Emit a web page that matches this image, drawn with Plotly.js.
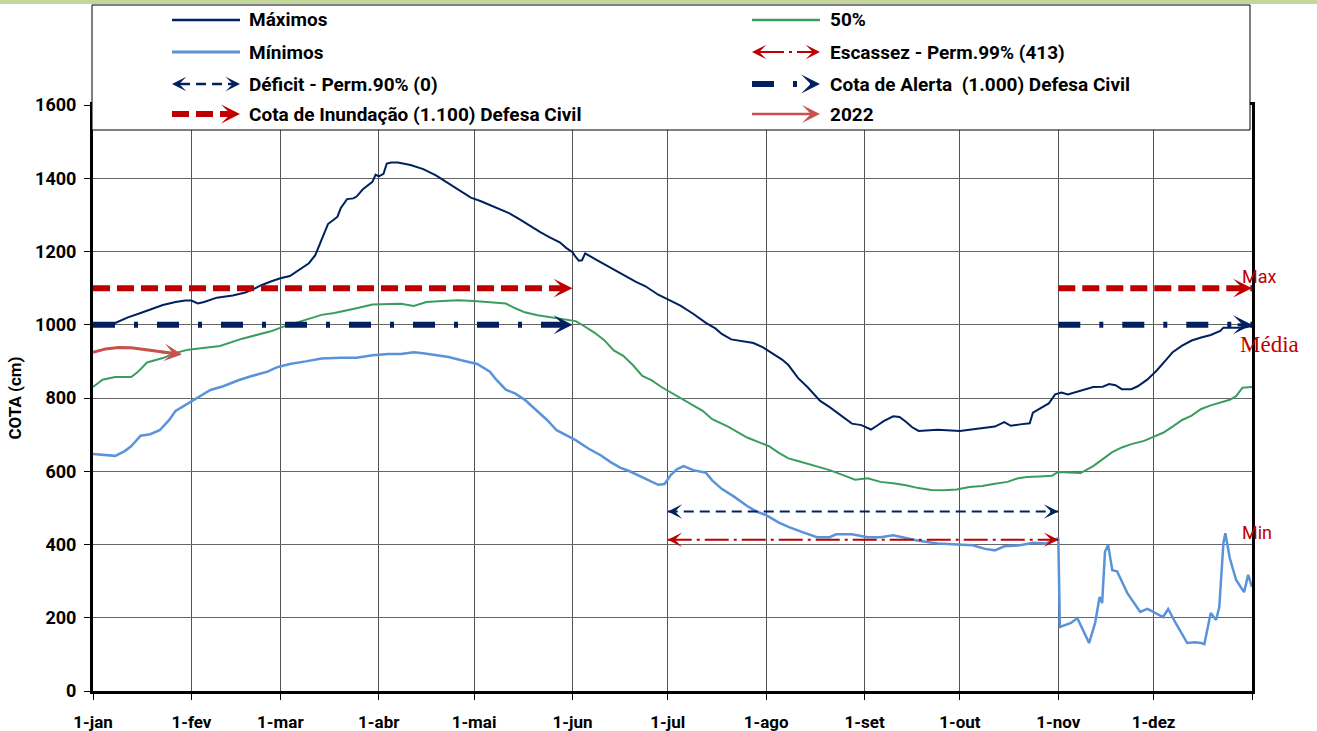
<!DOCTYPE html>
<html><head><meta charset="utf-8">
<script src="https://cdn.plot.ly/plotly-3.0.1.min.js"></script>
<style>html,body{margin:0;padding:0;background:#fff}#chart{width:1317px;height:731px}</style>
</head><body><div id="chart"></div>
<script>
// ---------- DATA ----------
const monthDays   = [0, 31, 59, 90, 120, 151, 181, 212, 243, 273, 304, 334, 365];
const monthLabels = ['1-jan','1-fev','1-mar','1-abr','1-mai','1-jun','1-jul','1-ago','1-set','1-out','1-nov','1-dez',''];

const maxDays = [0,4,7,11,15,19,22,26,29,31,33,35,39,44,48,50,53,56,59,62,65,68,70,72,74,76,77,78,79,80,82,83,85,86,88,89,90,91.5,92.5,94,96,100,104,108,112,116,119,122,125,128,131,134,138,141,144,147,149,151,152,153,154,155,158,161,164,168,171,174,178,182,185,189,193,196,198,201,204,208,211,214,217,219,222,225,229,232,234,237,239,242,245,247,249,252,254,256,258,260,266,273,279,284,287,289,292,295,296,299,301,303,305,307,311,315,318,320,322,324,327,329,332,335,338,340,343,346,349,352,355,356,360,363,365];
const maxVals = [1000,1000,1005,1020,1032,1045,1054,1062,1066,1066,1058,1062,1074,1080,1088,1095,1108,1118,1127,1133,1150,1168,1190,1230,1275,1288,1295,1318,1330,1343,1345,1350,1370,1376,1390,1410,1405,1412,1440,1443,1443,1436,1425,1408,1385,1363,1347,1338,1327,1315,1305,1290,1268,1252,1238,1225,1210,1198,1185,1175,1176,1195,1180,1165,1150,1130,1117,1105,1082,1065,1052,1030,1005,990,975,960,955,950,938,922,905,890,855,830,792,775,762,745,730,726,714,725,737,750,748,735,720,710,713,710,716,722,734,724,728,731,760,775,785,810,815,810,819,830,831,838,835,824,824,832,850,875,905,925,943,957,965,972,983,992,992,993,997];

const p50Days = [0,3,7,12,14,17,22,26,30,35,40,47,52,56,60,63,67,72,76,79,83,88,93,97,101,105,110,115,120,125,130,133,136,140,145,149,152,154,156,158,161,164,167,170,173,176,179,182,185,188,192,195,200,206,210,213,216,219,222,227,232,236,240,244,248,252,256,260,264,268,272,276,280,284,288,291,294,298,302,304,308,311,315,318,321,324,327,331,334,337,340,343,346,349,352,355,358,360,362,365];
const p50Vals = [830,850,857,857,870,897,909,923,932,937,942,962,972,982,995,1003,1012,1027,1032,1037,1045,1055,1057,1057,1051,1062,1065,1067,1065,1062,1058,1045,1034,1026,1020,1015,1010,1000,990,978,958,930,915,890,860,848,830,815,800,786,765,742,722,692,678,668,650,635,628,615,603,590,577,581,571,567,562,554,549,548,550,557,560,566,571,580,584,586,588,598,597,595,614,632,652,665,674,683,695,705,722,740,752,770,780,787,795,805,828,830];

const minDays = [0,4,7,10,12,15,18,21,24,26,28,30,33,37,41,46,50,55,58,62,67,72,78,83,88,93,97,101,104,108,112,116,121,125,127,130,133,136,140,143,146,149,152,156,160,163,166,169,172,176,178,180,182,184,186,189,193,195,198,202,206,209,212,216,219,223,228,232,234,239,244,248,252,256,260,266,272,277,281,284,287,292,296,300,303,304,304.5,308,310,311.5,313.7,315.6,317,317.8,318.7,319.7,321,322.5,325.7,329.8,332,333,337,338.6,341,344.6,347,349,350,352,353.7,354.7,356,356.6,358,360,362.5,363.8,365];
const minVals = [647,645,642,655,668,697,701,712,740,765,775,786,800,822,832,849,860,872,884,893,900,908,910,910,917,920,920,925,922,918,912,903,893,872,850,823,812,795,762,740,712,698,685,662,643,625,610,600,588,572,563,565,590,606,614,603,596,575,552,530,505,490,480,460,448,435,420,420,428,428,420,420,425,418,410,403,400,398,388,384,395,398,405,403,412,418,175,186,199,172,131,186,257,240,380,399,330,327,268,216,224,220,202,224,185,131,133,131,128,213,194,229,404,431,363,303,270,317,284];

const y2022Days = [0,4,8,12,15,18,21,25,28];
const y2022Vals = [925,934,938,937,934,930,926,922,919];

const inundacaoLevel = 1100;   // Cota de Inundação (1.100)
const alertaLevel    = 1000;   // Cota de Alerta (1.000)
const deficitLevel   = 490;    // Déficit - Perm.90%
const escassezLevel  = 413;    // Escassez - Perm.99%
const cotaSegments   = [[0, 151], [304, 365]];
const secaSegment    = [181, 304];

const legendNames = ['Máximos','50%','Mínimos','Escassez - Perm.99% (413)','Déficit - Perm.90% (0)','Cota de Alerta  (1.000) Defesa Civil','Cota de Inundação (1.100) Defesa Civil','2022'];

// ---------- STYLE ----------
const NAVY='#002060', RED='#C00000', GREEN='#3A9D5F', LBLUE='#5A93DA', BROWN='#C8504D';
const FONT='Roboto, "Noto Sans", sans-serif';
const L=93, R=1252, T=105, B=691;
const pxX = x => (x-L)/(R-L);
const pxY = y => (B-y)/(B-T);

const DASH_INUND = '17px,7px';
const DASH_ALERT = '22px,19px,4px,19px';
const DASH_DEF   = '10px,6px';
const DASH_ESC   = '24px,5px,3px,5px';

const traces = [];
function line(x,y,color,width,dash,name){
  traces.push({x:x,y:y,mode:'lines',name:name,showlegend:false,hoverinfo:'skip',
    line:{color:color,width:width,dash:dash||'solid',shape:'linear'}});
}
line(maxDays,maxVals,NAVY,2,null,legendNames[0]);
line(p50Days,p50Vals,GREEN,2,null,legendNames[1]);
line(minDays,minVals,LBLUE,2.5,null,legendNames[2]);
cotaSegments.forEach(s=>{
  line([s[0],s[1]],[inundacaoLevel,inundacaoLevel],RED,6,DASH_INUND,legendNames[6]);
  line([s[0],s[1]],[alertaLevel,alertaLevel],NAVY,6,DASH_ALERT,legendNames[5]);
});
line([secaSegment[0],secaSegment[1]],[deficitLevel,deficitLevel],NAVY,2,DASH_DEF,legendNames[4]);
line([secaSegment[0],secaSegment[1]],[escassezLevel,escassezLevel],RED,2,DASH_ESC,legendNames[3]);
line(y2022Days.slice(0,-1),y2022Vals.slice(0,-1),BROWN,3,null,legendNames[7]);

const annotations = [];
function head(x,y,ax,ay,color,w,size,ref){
  const a = {x:x,y:y,ax:ax,ay:ay,text:'',showarrow:true,arrowhead:3,arrowsize:size,arrowwidth:w,arrowcolor:color,standoff:0,startstandoff:0};
  if(ref==='paper'){a.xref='paper';a.yref='paper';a.axref='pixel';a.ayref='pixel';}
  else {a.xref='x';a.yref='y';a.axref='x';a.ayref='y';}
  annotations.push(a);
}
// arrowheads on the data reference lines
cotaSegments.forEach(s=>{
  head(s[1],inundacaoLevel,s[1]-5,inundacaoLevel,RED,3,1.05,'data');
  head(s[1],alertaLevel,s[1]-5,alertaLevel,NAVY,3,1.05,'data');
});
head(secaSegment[1],deficitLevel,secaSegment[1]-3,deficitLevel,NAVY,2,1.2,'data');
head(secaSegment[0],deficitLevel,secaSegment[0]+3,deficitLevel,NAVY,2,1.2,'data');
head(secaSegment[1],escassezLevel,secaSegment[1]-3,escassezLevel,RED,2,1.2,'data');
head(secaSegment[0],escassezLevel,secaSegment[0]+3,escassezLevel,RED,2,1.2,'data');
const n22=y2022Days.length;
head(y2022Days[n22-1],y2022Vals[n22-1],y2022Days[n22-3],y2022Vals[n22-3],BROWN,2.5,1.2,'data');

// side labels
annotations.push({x:pxX(1240),y:pxY(276),xref:'paper',yref:'paper',xanchor:'left',yanchor:'middle',showarrow:false,text:'Max',font:{family:FONT,size:18,color:RED}});
annotations.push({x:pxX(1238),y:pxY(344),xref:'paper',yref:'paper',xanchor:'left',yanchor:'middle',showarrow:false,text:'Média',font:{family:'"Liberation Serif", "DejaVu Serif", serif',size:23,color:RED}});
annotations.push({x:pxX(1240),y:pxY(532),xref:'paper',yref:'paper',xanchor:'left',yanchor:'middle',showarrow:false,text:'Min',font:{family:FONT,size:18,color:RED}});

// ---------- custom legend ----------
const shapes = [];
shapes.push({type:'rect',xref:'paper',yref:'paper',x0:pxX(0),x1:pxX(1317),y0:pxY(4),y1:pxY(0),fillcolor:'#C3D69B',line:{width:0},layer:'above'});
shapes.push({type:'rect',xref:'paper',yref:'paper',x0:pxX(92),x1:pxX(1250),y0:pxY(130),y1:pxY(5),fillcolor:'#ffffff',line:{color:'#000',width:1},layer:'above'});
const rowsY=[20,52,84,114];
const cols=[{x0:172,x1:240,tx:247},{x0:752,x1:820,tx:828}];
const legendStyles=[
  {c:NAVY,w:2.5},{c:GREEN,w:2.5},{c:LBLUE,w:3},
  {c:RED,w:2,d:DASH_ESC,both:true},{c:NAVY,w:2.5,d:DASH_DEF,both:true},
  {c:NAVY,w:6,d:DASH_ALERT,end:true},{c:RED,w:6,d:DASH_INUND,end:true},{c:BROWN,w:2.5,end:true}
];
legendNames.forEach((nm,i)=>{
  const col=cols[i%2], yy=rowsY[Math.floor(i/2)], st=legendStyles[i];
  const x0 = st.both? col.x0+8 : col.x0, x1 = (st.both||st.end)? col.x1-8 : col.x1;
  shapes.push({type:'line',xref:'paper',yref:'paper',x0:pxX(x0),x1:pxX(x1),y0:pxY(yy),y1:pxY(yy),
    line:{color:st.c,width:st.w,dash:st.d||'solid'},layer:'above'});
  if(st.both){
    head(pxX(col.x1),pxY(yy),-10,0,st.c,2,1.2,'paper');
    head(pxX(col.x0),pxY(yy),10,0,st.c,2,1.2,'paper');
  }
  if(st.end){
    const big = st.w>=6;
    head(pxX(col.x1),pxY(yy),-10,0,st.c,big?3:2.5,big?1.05:1.2,'paper');
  }
  annotations.push({x:pxX(col.tx),y:pxY(yy),xref:'paper',yref:'paper',xanchor:'left',yanchor:'middle',showarrow:false,
    text:nm,font:{family:FONT,size:19,color:'#000',weight:'bold'}});
});

const layout = {
  width:1317,height:731,
  margin:{l:L,r:1317-R,t:T,b:731-B,pad:0},
  paper_bgcolor:'#fff',plot_bgcolor:'#fff',
  showlegend:false,
  xaxis:{range:[0,365],tickmode:'array',tickvals:monthDays,ticktext:monthLabels,
    showgrid:true,gridcolor:'#555',gridwidth:1,zeroline:false,
    showline:true,linecolor:'#000',linewidth:3,mirror:true,
    ticks:'outside',ticklen:6,tickcolor:'#000',tickwidth:1,ticklabelstandoff:8,
    tickfont:{family:FONT,size:17,color:'#000',weight:'bold'}},
  yaxis:{range:[0,1600],tick0:0,dtick:200,
    showgrid:true,gridcolor:'#666',gridwidth:1,zeroline:false,
    showline:true,linecolor:'#000',linewidth:3,mirror:true,
    ticks:'outside',ticklen:6,tickcolor:'#000',tickwidth:1,ticklabelstandoff:4,
    tickfont:{family:FONT,size:18,color:'#000',weight:'bold'},
    title:{text:'COTA (cm)',font:{family:FONT,size:17,color:'#000',weight:'bold'},standoff:10}},
  shapes:shapes,
  annotations:annotations
};
Plotly.newPlot('chart',traces,layout,{displayModeBar:false,staticPlot:true});
</script></body></html>
